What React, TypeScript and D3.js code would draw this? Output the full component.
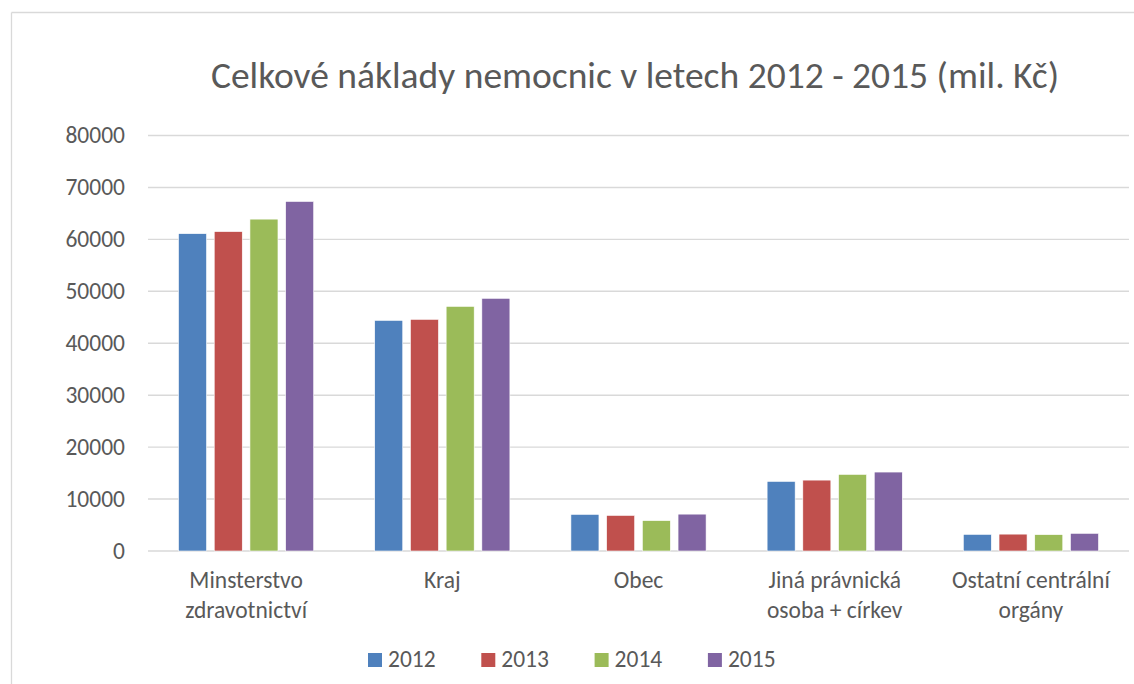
import React from "react";
import * as d3 from "d3";

const categories: string[][] = [
  ["Minsterstvo", "zdravotnictví"],
  ["Kraj"],
  ["Obec"],
  ["Jiná právnická", "osoba + církev"],
  ["Ostatní centrální", "orgány"],
];
const years = ["2012", "2013", "2014", "2015"];
const colors = ["#4f81bd", "#c0504d", "#9bbb59", "#8064a2"];
const values2012 = [61100, 44400, 7050, 13400, 3200];
const values2013 = [61500, 44600, 6850, 13650, 3250];
const values2014 = [63900, 47100, 5850, 14750, 3150];
const values2015 = [67300, 48650, 7100, 15200, 3400];
const series = [values2012, values2013, values2014, values2015];
const yTicks = [0, 10000, 20000, 30000, 40000, 50000, 60000, 70000, 80000];
const title = "Celkové náklady nemocnic v letech 2012 - 2015 (mil. Kč)";

const W = 1134;
const H = 684;
const left = 148;
const right = 1129;
const top = 135.5;
const bottom = 551;
const font = "Carlito, Calibri, Lato, 'Open Sans', sans-serif";
const textColor = "#595959";
const labelSize = 23.5;

export default function App() {
  const x0 = d3
    .scaleBand<number>()
    .domain(categories.map((_, i) => i))
    .range([left, right])
    .paddingInner(0.311)
    .paddingOuter(0.1555);
  const x1 = d3
    .scaleBand<string>()
    .domain(years)
    .range([0, x0.bandwidth()])
    .paddingInner(0.215);
  const y = d3.scaleLinear().domain([0, 80000]).range([bottom, top]);

  return (
    <svg
      width={W}
      height={H}
      style={{ position: "absolute", left: 0, top: 0, background: "#fff" }}
      fontFamily={font}
    >
      <rect x={0} y={0} width={W} height={H} fill="#fff" />
      <line x1={11.5} y1={12.5} x2={W + 5} y2={12.5} stroke="#d9d9d9" strokeWidth={1.3} />
      <line x1={11.5} y1={12.5} x2={11.5} y2={H + 5} stroke="#d9d9d9" strokeWidth={1.3} />
      <text x={635} y={88} textAnchor="middle" fontSize={37.5} fill={textColor}>
        {title}
      </text>
      {yTicks.map((t) => (
        <g key={t}>
          <line x1={left} x2={right} y1={y(t)} y2={y(t)} stroke="#d9d9d9" strokeWidth={1.4} />
          <text
            x={125}
            y={y(t)}
            dy="0.34em"
            textAnchor="end"
            fontSize={labelSize}
            fill={textColor}
          >
            {t}
          </text>
        </g>
      ))}
      {categories.map((c, i) => (
        <g key={i}>
          {series.map((s, j) => (
            <rect
              key={j}
              x={(x0(i) as number) + (x1(years[j]) as number)}
              y={y(s[i])}
              width={x1.bandwidth()}
              height={bottom - y(s[i])}
              fill={colors[j]}
              stroke="#fff"
              strokeWidth={0.6}
            />
          ))}
          {c.map((line, k) => (
            <text
              key={k}
              x={(x0(i) as number) + x0.bandwidth() / 2}
              y={588 + k * 29.5}
              textAnchor="middle"
              fontSize={labelSize}
              fill={textColor}
            >
              {line}
            </text>
          ))}
        </g>
      ))}
      {years.map((yr, j) => (
        <g key={yr} transform={`translate(${368 + j * 113.3},653)`}>
          <rect x={0} y={0} width={14} height={14} fill={colors[j]} />
          <text x={20} y={14} fontSize={labelSize} fill={textColor}>
            {yr}
          </text>
        </g>
      ))}
    </svg>
  );
}
